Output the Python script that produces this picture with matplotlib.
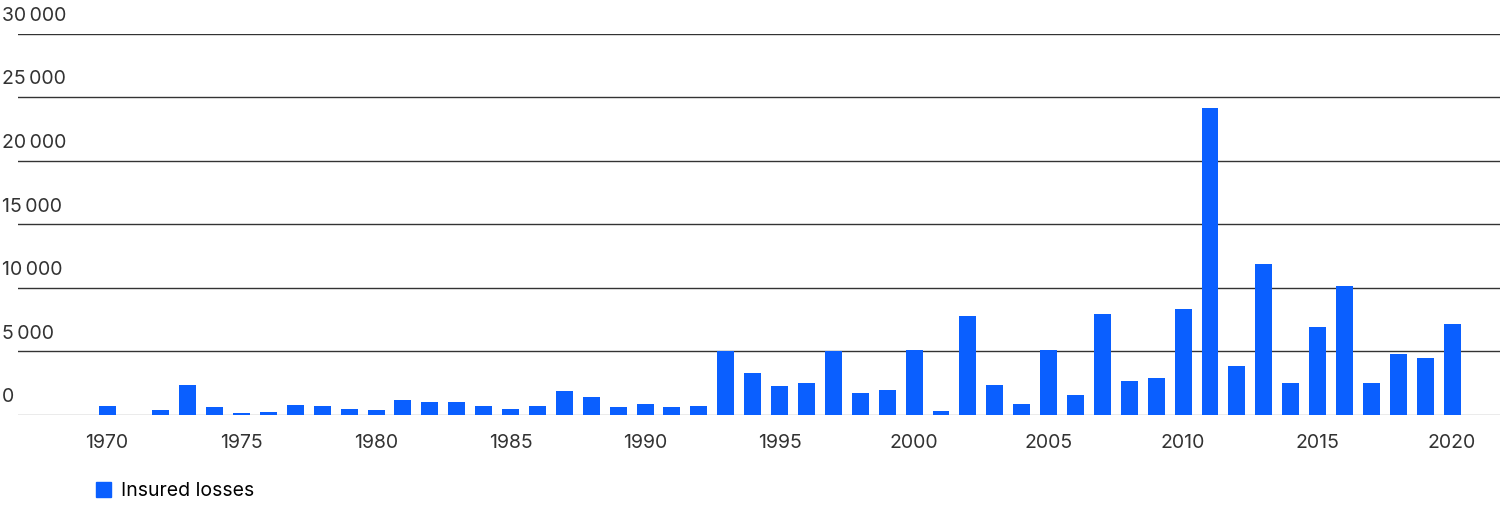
import matplotlib
matplotlib.use("Agg")
import matplotlib.pyplot as plt
from matplotlib.patches import Patch
import matplotlib.transforms as mt

plt.rcParams['font.family'] = ['Inter', 'DejaVu Sans']

years = list(range(1970, 2021))
losses = [700, 0, 400, 2400, 600, 150, 200, 800, 700, 500, 400, 1200, 1000, 1000, 700, 500, 700,
          1900, 1400, 600, 900, 650, 700, 5000, 3300, 2250, 2500, 5000, 1700, 2000, 5100, 300,
          7800, 2400, 850, 5100, 1600, 7950, 2650, 2900, 8350, 24150, 3850, 11900, 2500, 6900,
          10150, 2550, 4800, 4450, 7150]
yticks = [0, 5000, 10000, 15000, 20000, 25000, 30000]
xticks = [1970, 1975, 1980, 1985, 1990, 1995, 2000, 2005, 2010, 2015, 2020]
color = '#0A5FFF'

fig = plt.figure(figsize=(15, 5.28), dpi=100)
ax = fig.add_axes([0.012, 0.214, 0.988, 0.722])
ax.bar(years, losses, width=0.63, color=color, zorder=3)
ax.set_xlim(1966.69, 2021.78)
ax.set_ylim(0, 30000)
for t in yticks:
    ax.axhline(t, color='#333333' if t else '#999999', lw=1, zorder=1)
    tr = mt.blended_transform_factory(fig.transFigure, ax.transData)
    ax.text(0.001, t + 700, f"{t:,}".replace(",", "\u2009") if t else "0", transform=tr,
            fontsize=14, color='#333333', ha='left', va='bottom',
            family=['Inter', 'DejaVu Sans'])
ax.set_yticks([])
ax.set_xticks(xticks)
ax.set_xticklabels([str(x) for x in xticks], fontsize=14, color='#333333')
ax.tick_params(axis='x', length=0, pad=14)
for s in ax.spines.values():
    s.set_visible(False)
fig.legend(handles=[Patch(color=color)], labels=['Insured losses'], loc='lower left',
           bbox_to_anchor=(0.052, 0.02), frameon=False, fontsize=14, handlelength=0.8,
           handleheight=0.8, handletextpad=0.5)
fig.savefig('out.png', dpi=100)
